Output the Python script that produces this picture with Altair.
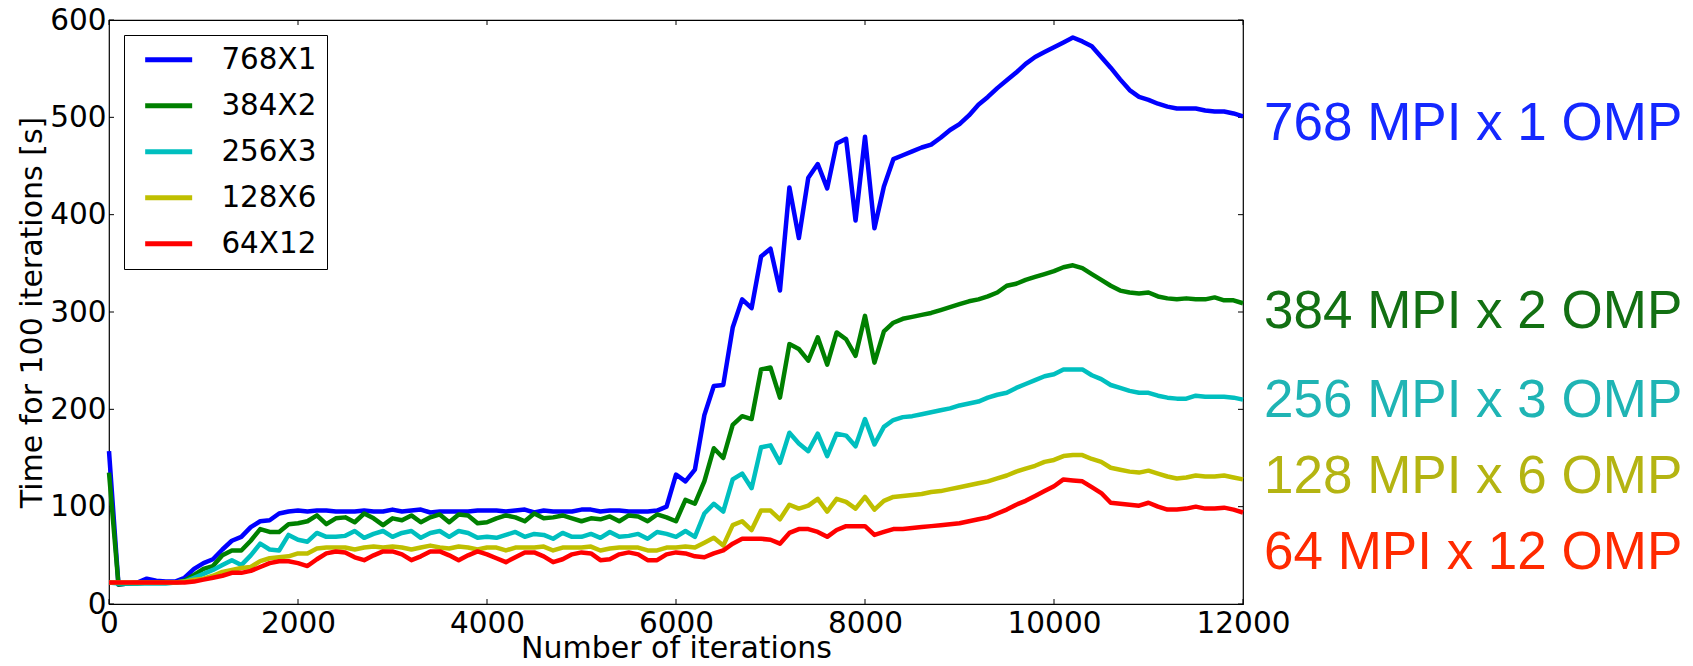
import altair as alt
import pandas as pd

# ---------------- data ----------------
ITERATIONS = list(range(0, 12001, 100))

SERIES = ["768X1", "384X2", "256X3", "128X6", "64X12"]
LINE_COLORS = ["#0000ff", "#008000", "#00bfbf", "#bfbf00", "#ff0000"]

T_768X1 = [157, 20, 21, 22, 26, 24, 23, 23, 27, 36, 42, 46, 56, 65, 69, 79, 85, 86, 93, 95,
           96, 95, 96, 96, 95, 95, 95, 96, 95, 95, 97, 95, 96, 97, 94, 95, 95, 95, 95, 96,
           96, 96, 95, 96, 97, 94, 96, 95, 95, 95, 97, 97, 95, 96, 96, 95, 95, 95, 96, 100,
           133, 126, 138, 194, 224, 225, 284, 313, 304, 357, 365, 322, 428, 376, 438, 452, 427, 473, 478, 394,
           480, 386, 429, 457, 461, 465, 469, 472, 479, 487, 493, 502, 513, 521, 530, 538, 546, 555, 562, 567,
           572, 577, 582, 578, 573, 562, 551, 539, 528, 521, 518, 514, 511, 509, 509, 509, 507, 506, 506, 504,
           501]
T_384X2 = [135, 20, 21, 21, 22, 22, 22, 22, 24, 30, 36, 39, 50, 55, 55, 65, 77, 74, 74, 82,
           83, 85, 91, 82, 88, 89, 84, 93, 88, 81, 88, 86, 91, 84, 89, 92, 84, 92, 91, 83,
           84, 88, 91, 89, 85, 93, 88, 89, 91, 88, 85, 88, 87, 90, 85, 91, 90, 85, 92, 89,
           85, 107, 103, 126, 160, 150, 184, 193, 190, 241, 243, 212, 267, 262, 250, 274, 246, 279, 272, 255,
           296, 248, 280, 289, 293, 295, 297, 299, 302, 305, 308, 311, 313, 316, 320, 327, 329, 333, 336, 339,
           342, 346, 348, 345, 339, 333, 327, 322, 320, 319, 320, 316, 314, 313, 314, 313, 313, 315, 312, 312,
           309]
T_256X3 = [22, 21, 21, 21, 21, 21, 21, 22, 23, 27, 31, 35, 40, 45, 40, 50, 62, 56, 55, 71,
           66, 64, 73, 69, 69, 70, 75, 68, 72, 75, 69, 73, 75, 68, 73, 75, 69, 75, 73, 68,
           69, 68, 71, 74, 69, 72, 71, 67, 73, 69, 69, 72, 68, 74, 69, 70, 72, 67, 74, 72,
           69, 75, 69, 93, 103, 95, 128, 134, 119, 161, 163, 145, 176, 165, 157, 175, 152, 175, 173, 162,
           190, 164, 182, 189, 192, 193, 195, 197, 199, 201, 204, 206, 208, 212, 215, 217, 222, 226, 230, 234,
           236, 241, 241, 241, 235, 231, 225, 222, 219, 217, 217, 214, 212, 211, 211, 214, 213, 213, 213, 212,
           210]
T_128X6 = [22, 22, 22, 22, 22, 22, 22, 22, 23, 25, 26, 29, 33, 35, 37, 38, 44, 47, 48, 49,
           52, 52, 57, 58, 58, 58, 56, 58, 59, 58, 59, 58, 56, 58, 60, 58, 57, 59, 58, 56,
           58, 58, 55, 58, 58, 58, 59, 55, 58, 58, 58, 59, 55, 57, 58, 58, 58, 55, 55, 58,
           58, 59, 58, 63, 68, 60, 81, 85, 76, 96, 96, 87, 102, 98, 101, 108, 95, 108, 105, 98,
           110, 97, 106, 110, 111, 112, 113, 115, 116, 118, 120, 122, 124, 126, 129, 132, 136, 139, 142, 146,
           148, 152, 153, 153, 149, 146, 140, 138, 136, 135, 137, 134, 131, 129, 130, 132, 131, 131, 132, 130,
           128]
T_64X12 = [22, 22, 22, 22, 22, 22, 22, 22, 22, 23, 25, 27, 29, 32, 32, 34, 38, 42, 44, 44,
           42, 39, 46, 52, 54, 53, 48, 45, 50, 54, 54, 51, 45, 49, 54, 54, 50, 45, 50, 54,
           51, 47, 43, 48, 53, 53, 49, 43, 46, 51, 53, 52, 45, 46, 51, 53, 51, 45, 45, 51,
           53, 52, 49, 48, 52, 55, 62, 67, 67, 67, 66, 62, 73, 77, 77, 74, 69, 76, 80, 80,
           80, 71, 74, 77, 77, 78, 79, 80, 81, 82, 83, 85, 87, 89, 93, 97, 102, 106, 111, 116,
           121, 128, 127, 126, 120, 114, 104, 103, 102, 101, 104, 100, 97, 97, 98, 100, 98, 98, 99, 97,
           94]

END_LABELS = ["768 MPI x 1 OMP", "384 MPI x 2 OMP", "256 MPI x 3 OMP",
              "128 MPI x 6 OMP", "64 MPI x 12 OMP"]
END_LABEL_Y = [477, 284, 192, 114, 36]          # baseline height of each label, in seconds
LABEL_COLORS = ["#1428ff", "#137013", "#1fb4b4", "#b4b412", "#ff2a00"]

X_TICKS = [0, 2000, 4000, 6000, 8000, 10000, 12000]
Y_TICKS = [0, 100, 200, 300, 400, 500, 600]

# ---------------- tables ----------------
values = [T_768X1, T_384X2, T_256X3, T_128X6, T_64X12]
rows = []
for name, vals in zip(SERIES, values):
    for it, v in zip(ITERATIONS, vals):
        rows.append({"iteration": it, "time": v, "config": name})
df = pd.DataFrame(rows)

labels_df = pd.DataFrame({
    "iteration": [X_TICKS[-1]] * len(END_LABELS),
    "time": END_LABEL_Y,
    "label": END_LABELS,
})
xt_df = pd.DataFrame({"iteration": X_TICKS})
yt_df = pd.DataFrame({"time": Y_TICKS})

W, H = 1134, 584
FONT = "DejaVu Sans"

x_scale = alt.Scale(domain=[X_TICKS[0], X_TICKS[-1]], nice=False, zero=False, padding=0)
y_scale = alt.Scale(domain=[Y_TICKS[0], Y_TICKS[-1]], nice=False, padding=0)

x_axis = alt.Axis(values=X_TICKS, format="d", title="Number of iterations",
                  domain=False, grid=False, ticks=False, labelPadding=5,
                  labelFlush=False,
                  labelFont=FONT, labelFontSize=29.5, labelColor="black",
                  titleFont=FONT, titleFontSize=30, titleFontWeight="normal",
                  titleColor="black", titleY=53, titleBaseline="alphabetic",
                  labelOverlap=False)
y_axis = alt.Axis(values=Y_TICKS, format="d", title="Time for 100 iterations [s]",
                  domain=False, grid=False, ticks=False, labelPadding=3,
                  labelFlush=False,
                  labelFont=FONT, labelFontSize=29.5, labelColor="black",
                  titleFont=FONT, titleFontSize=30, titleFontWeight="normal",
                  titleColor="black", titleX=-68, titleBaseline="alphabetic",
                  labelOverlap=False)

X = alt.X("iteration:Q", scale=x_scale, axis=x_axis)
Y = alt.Y("time:Q", scale=y_scale, axis=y_axis)

lines = alt.Chart(df).mark_line(strokeWidth=4.5, strokeJoin="round").encode(
    x=X,
    y=Y,
    color=alt.Color(
        "config:N",
        scale=alt.Scale(domain=SERIES, range=LINE_COLORS),
        sort=SERIES,
        legend=alt.Legend(
            title=None, orient="none", legendX=15, legendY=15,
            symbolType="M-0.3,0H3.7", symbolSize=552, symbolStrokeWidth=5,
            labelFont=FONT, labelFontSize=29.4, labelColor="black",
            labelOffset=58, rowPadding=15, padding=10,
            strokeColor="black", fillColor="white", cornerRadius=0,
        ),
    ),
    order=alt.Order("iteration:Q"),
)

end_text = alt.Chart(labels_df).mark_text(
    align="left", baseline="alphabetic", dx=21, fontSize=53,
    font="Liberation Sans",
).encode(
    x=X,
    y=Y,
    text="label:N",
    color=alt.Color("label:N", scale=alt.Scale(domain=END_LABELS, range=LABEL_COLORS),
                    legend=None),
)

tick_style = dict(color="black", strokeWidth=1)
xt_top = alt.Chart(xt_df).mark_rule(**tick_style).encode(x=X, y=alt.value(0), y2=alt.value(5))
xt_bot = alt.Chart(xt_df).mark_rule(**tick_style).encode(x=X, y=alt.value(H), y2=alt.value(H - 5))
yt_left = alt.Chart(yt_df).mark_rule(**tick_style).encode(y=Y, x=alt.value(0), x2=alt.value(5))
yt_right = alt.Chart(yt_df).mark_rule(**tick_style).encode(y=Y, x=alt.value(W), x2=alt.value(W - 5))

chart = alt.layer(xt_top, xt_bot, yt_left, yt_right, lines, end_text).resolve_scale(
    color="independent"
).properties(
    width=W, height=H,
    autosize=alt.AutoSizeParams(type="none"),
    padding={"left": 101, "top": 12, "right": 440, "bottom": 54},
    background="white",
).configure_view(stroke="black", strokeWidth=1.2)

chart.save("out.html", embed_options={"renderer": "svg", "actions": False})
